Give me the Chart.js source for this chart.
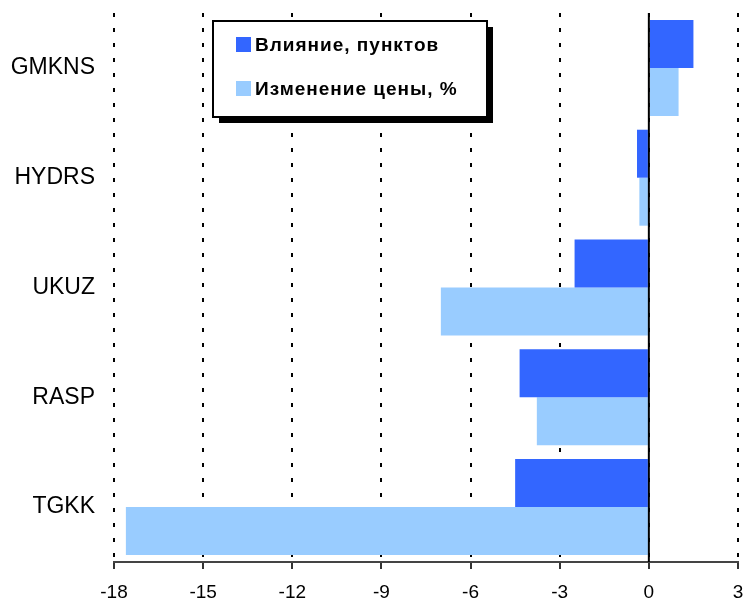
<!DOCTYPE html>
<html>
<head>
<meta charset="utf-8">
<script src="https://cdn.jsdelivr.net/npm/chart.js@4.4.0/dist/chart.umd.min.js"></script>
<style>
  html, body { margin: 0; padding: 0; background: #fff; }
  #wrap { width: 744px; height: 601px; }
</style>
</head>
<body>
<div id="wrap"><canvas id="chart" width="744" height="601"></canvas></div>
<script>
// Данные графика
const tickers = ['GMKNS', 'HYDRS', 'UKUZ', 'RASP', 'TGKK'];
const influence = [1.5, -0.4, -2.5, -4.35, -4.5];      // Влияние, пунктов
const priceChange = [1.0, -0.32, -7.0, -3.77, -17.6];  // Изменение цены, %
const seriesNames = ['Влияние, пунктов', 'Изменение цены, %'];
const xMin = -18, xMax = 3, xStep = 3;

const fontFamily = '"Liberation Sans", Arial, sans-serif';

// Сплошная линия нуля
const zeroLine = {
    id: 'zeroLine',
    afterDatasetsDraw(chart) {
        const { ctx, chartArea, scales } = chart;
        const x = scales.x.getPixelForValue(0);
        ctx.save();
        ctx.strokeStyle = '#000';
        ctx.lineWidth = 2;
        ctx.beginPath();
        ctx.moveTo(x, chartArea.top);
        ctx.lineTo(x, chartArea.bottom);
        ctx.stroke();
        ctx.restore();
    }
};

// Легенда в рамке с тенью
const boxLegend = {
    id: 'boxLegend',
    afterDraw(chart) {
        const ctx = chart.ctx;
        const bx = 213, by = 21, bw = 274, bh = 96;
        ctx.save();
        ctx.fillStyle = '#000';
        ctx.fillRect(bx + 6, by + 6, bw, bh);
        ctx.fillStyle = '#fff';
        ctx.fillRect(bx, by, bw, bh);
        ctx.strokeStyle = '#000';
        ctx.lineWidth = 2;
        ctx.strokeRect(bx, by, bw, bh);
        ctx.font = 'bold 19px ' + fontFamily;
        ctx.letterSpacing = '1px';
        ctx.textBaseline = 'middle';
        chart.data.datasets.forEach((ds, i) => {
            const cy = by + 24 + i * 44;
            ctx.fillStyle = ds.backgroundColor;
            ctx.fillRect(bx + 23, cy - 8, 15, 15);
            ctx.fillStyle = '#000';
            ctx.fillText(ds.label, bx + 42, cy + 1);
        });
        ctx.restore();
    }
};

new Chart(document.getElementById('chart'), {
    type: 'bar',
    data: {
        labels: tickers,
        datasets: [{
            label: seriesNames[0],
            data: influence,
            backgroundColor: '#3366FF',
            borderWidth: 0
        }, {
            label: seriesNames[1],
            data: priceChange,
            backgroundColor: '#99CCFF',
            borderWidth: 0
        }]
    },
    options: {
        indexAxis: 'y',
        responsive: false,
        animation: false,
        layout: { padding: { top: 13, right: 6, left: 0, bottom: 0 } },
        datasets: { bar: { categoryPercentage: 0.874, barPercentage: 1.0 } },
        plugins: {
            legend: { display: false },
            tooltip: { enabled: false }
        },
        scales: {
            x: {
                min: xMin,
                max: xMax,
                ticks: {
                    stepSize: xStep,
                    color: '#000',
                    padding: 12,
                    font: { family: fontFamily, size: 19 }
                },
                grid: {
                    color: '#000',
                    lineWidth: 2,
                    tickLength: 7,
                    tickColor: '#333',
                    tickWidth: 2
                },
                border: { display: true, color: '#444', width: 2, dash: [4, 11] },
                afterFit(scale) {
                    scale.height = 39;
                    scale.paddingLeft = 0;
                    scale.paddingRight = 0;
                }
            },
            y: {
                grid: { display: false },
                border: { display: false },
                ticks: {
                    color: '#000',
                    padding: 11,
                    font: { family: fontFamily, size: 23 }
                },
                afterFit(scale) {
                    scale.width = 114;
                    scale.paddingTop = 0;
                    scale.paddingBottom = 0;
                }
            }
        }
    },
    plugins: [zeroLine, boxLegend]
});
</script>
</body>
</html>
